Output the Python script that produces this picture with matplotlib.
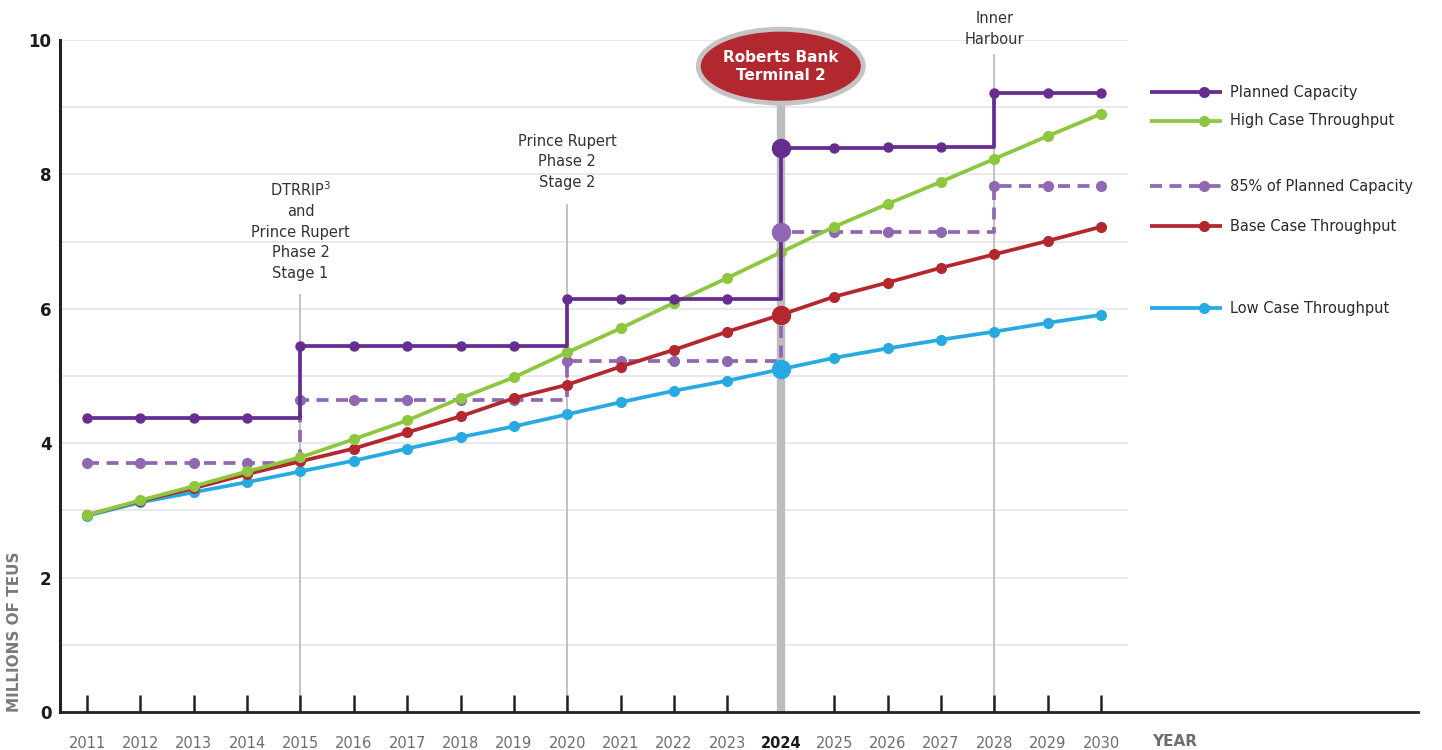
import matplotlib
matplotlib.use("Agg")
import matplotlib.pyplot as plt
from matplotlib.patches import Ellipse
from matplotlib.lines import Line2D

years = list(range(2011, 2031))

planned = [4.37, 4.37, 4.37, 4.37, 5.45, 5.45, 5.45, 5.45, 5.45, 6.15,
           6.15, 6.15, 6.15, 8.40, 8.40, 8.41, 8.41, 9.21, 9.21, 9.21]
planned_85 = [3.71, 3.71, 3.71, 3.71, 4.64, 4.64, 4.64, 4.64, 4.64, 5.23,
              5.23, 5.23, 5.23, 7.14, 7.14, 7.14, 7.14, 7.83, 7.83, 7.83]
high = [2.93, 3.15, 3.36, 3.58, 3.79, 4.06, 4.34, 4.67, 4.98, 5.35,
        5.71, 6.09, 6.46, 6.84, 7.22, 7.56, 7.89, 8.23, 8.57, 8.90]
base = [2.93, 3.14, 3.33, 3.54, 3.73, 3.92, 4.16, 4.40, 4.67, 4.87,
        5.14, 5.39, 5.66, 5.91, 6.18, 6.39, 6.61, 6.81, 7.01, 7.22]
low = [2.92, 3.12, 3.27, 3.42, 3.58, 3.74, 3.92, 4.09, 4.25, 4.43,
       4.61, 4.78, 4.93, 5.10, 5.27, 5.41, 5.54, 5.66, 5.79, 5.91]

# milestone markers: year, label, top of the guide line, gap to caption
milestones = [
    (2015, "DTRRIP$^3$\nand\nPrince Rupert\nPhase 2\nStage 1", 6.2, 0.22),
    (2020, "Prince Rupert\nPhase 2\nStage 2", 7.55, 0.22),
    (2028, "Inner\nHarbour", 9.77, 0.13),
]
rbt2_year = 2024

PURPLE = "#662d91"
PURPLE_LT = "#9068b2"
GREEN = "#8dc63f"
RED = "#b3282f"
BLUE = "#27aae1"
GREY_LINE = "#bdbdc0"

W, H = 1442, 750
fig = plt.figure(figsize=(W / 100, H / 100), dpi=100)
ax = fig.add_axes([60 / W, 38 / H, (1418 - 60) / W, 672 / H])

px_year = (1101 - 87) / 19
ax.set_xlim(2011 - 27 / px_year, 2030 + 317 / px_year)
ax.set_ylim(0, 10)
grid_end = 2030 + 26 / px_year

# horizontal grid
for v in range(1, 11):
    ax.plot([ax.get_xlim()[0], grid_end], [v, v], color="#e3e3e3", lw=1.1, zorder=0.5)

# milestone guide lines and captions
for yr, label, top, gap in milestones:
    ax.plot([yr, yr], [0, top], color=GREY_LINE, lw=1.3, zorder=0.8, clip_on=False)
    ax.text(yr, top + gap, label, ha="center", va="bottom", fontsize=10.5,
            color="#333333", linespacing=1.45, clip_on=False)

# Roberts Bank Terminal 2 callout
ax.plot([rbt2_year, rbt2_year], [0, 9.1], color=GREY_LINE, lw=6, zorder=0.9,
        solid_capstyle="butt", clip_on=False)
ell = Ellipse((rbt2_year, 9.61), 165 / px_year, 74 / 67.2, facecolor=RED,
              edgecolor="#c4c4c6", lw=3.5, zorder=5, clip_on=False)
ax.add_patch(ell)
ax.text(rbt2_year, 9.61, "Roberts Bank\nTerminal 2", ha="center", va="center",
        color="white", fontsize=11, fontweight="bold", zorder=6,
        linespacing=1.25, clip_on=False)

lw = 2.7
ms = 6.5
ax.plot(years, planned_85, color=PURPLE_LT, lw=lw, dashes=(3.2, 2.0),
        drawstyle="steps-post", zorder=2)
ax.plot(years, planned_85, ls="none", marker="o", ms=ms + 0.5, color=PURPLE_LT, zorder=2)
ax.plot(years, low, color=BLUE, lw=lw, marker="o", ms=ms + 0.5, zorder=3)
ax.plot(years, base, color=RED, lw=lw, marker="o", ms=ms + 0.5, zorder=3.1)
ax.plot(years, high, color=GREEN, lw=lw, marker="o", ms=ms + 0.5, zorder=3.2)
ax.plot(years, planned, color=PURPLE, lw=lw, drawstyle="steps-post", zorder=3.3)
ax.plot(years, planned, ls="none", marker="o", ms=ms, color=PURPLE, zorder=3.3)

# emphasised points for the RBT2 year
i = years.index(rbt2_year)
for series, col in [(planned, PURPLE), (planned_85, PURPLE_LT), (base, RED), (low, BLUE)]:
    ax.plot(years[i], series[i], marker="o", ms=13, color=col, zorder=4)

# axes styling
for side in ["top", "right"]:
    ax.spines[side].set_visible(False)
ax.spines["left"].set_linewidth(2.2)
ax.spines["bottom"].set_linewidth(2.0)
ax.spines["left"].set_color("#222222")
ax.spines["bottom"].set_color("#222222")

ax.set_yticks(range(0, 11, 2))
ax.tick_params(axis="y", length=0, pad=6, labelsize=12, labelcolor="#1a1a1a")
for t in ax.get_yticklabels():
    t.set_fontweight("bold")

ax.set_xticks(years)
ax.set_xticklabels([str(y) for y in years])
ax.tick_params(axis="x", direction="in", length=12, width=1.8, color="#222222",
               pad=17, labelsize=10.5, labelcolor="#6d6d6d")
for t in ax.get_xticklabels():
    if t.get_text() == str(rbt2_year):
        t.set_fontweight("bold")
        t.set_color("#1a1a1a")
ax.xaxis.get_major_ticks()[i].tick1line.set_visible(False)

fig.text(1175 / W, 1 - 741 / H, "YEAR", ha="center", va="center",
         fontsize=11, fontweight="bold", color="#6d6d6d")
fig.text(15 / W, 1 - 632 / H, "MILLIONS OF TEUS", ha="center", va="center",
         rotation=90, fontsize=11, fontweight="bold", color="#7a7a7a")

# legend drawn by hand so the rows can sit at uneven heights
legend_rows = [
    ("Planned Capacity", PURPLE, "-", 92),
    ("High Case Throughput", GREEN, "-", 121),
    ("85% of Planned Capacity", PURPLE_LT, "--", 186),
    ("Base Case Throughput", RED, "-", 226),
    ("Low Case Throughput", BLUE, "-", 308),
]
for label, col, ls, yp in legend_rows:
    yf = 1 - yp / H
    ln = Line2D([1150 / W, 1222 / W], [yf, yf], transform=fig.transFigure,
                color=col, lw=2.7, solid_capstyle="butt")
    if ls == "--":
        ln.set_dashes((3.2, 2.0))
    fig.add_artist(ln)
    fig.add_artist(Line2D([1204 / W], [yf], transform=fig.transFigure, marker="o",
                          ms=7, color=col, ls="none"))
    fig.text(1230 / W, yf, label, ha="left", va="center", fontsize=10.5, color="#2a2a2a")

fig.savefig("out.png", dpi=100)
